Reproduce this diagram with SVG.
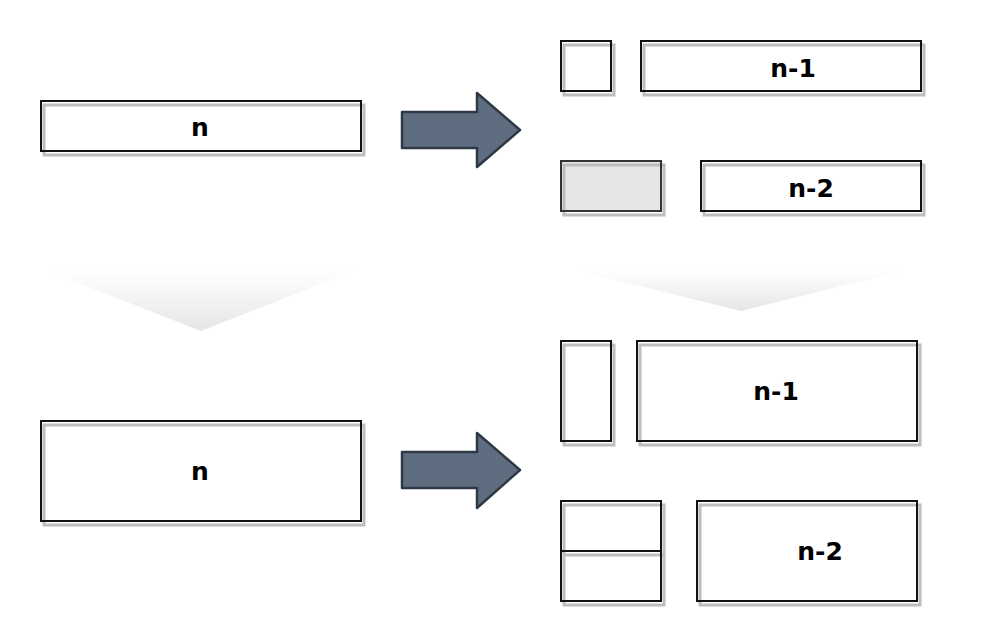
<svg xmlns="http://www.w3.org/2000/svg" width="1004" height="644" viewBox="0 0 1004 644">
<style>
.sh{fill:none;stroke:#bdbdbd;stroke-width:3}
.bx{fill:#ffffff;fill-opacity:0;stroke:#111;stroke-width:2}
.bg{fill:#fff}
.lbl{font-family:"DejaVu Sans",Verdana,sans-serif;font-weight:bold;font-size:25px;fill:#000;text-anchor:middle;dominant-baseline:central}
.arr{fill:#5e6e80;stroke:#2e3945;stroke-width:2.5;stroke-linejoin:round}
.chev{fill:url(#cg)}
</style>
<defs>
<linearGradient id="cg" x1="0" y1="0" x2="0" y2="1">
<stop offset="0" stop-color="#ffffff"/>
<stop offset="1" stop-color="#e6e6e6"/>
</linearGradient>
</defs>
<rect width="1004" height="644" fill="#fff"/>
<g id="chevrons">
<polygon class="chev" points="45,270 356,270 201,331"/>
<polygon class="chev" points="575,270 906,270 741,311"/>
</g>
<g id="connectors">
<polygon class="arr" points="402,112 477,112 477,93 520,130 477,167 477,148 402,148"/>
<polygon class="arr" points="402,452 477,452 477,433 520,470 477,508 477,488 402,488"/>
</g>
<g id="n-top">
<rect class="bg" x="41" y="101" width="320" height="50"/>
<rect class="sh" x="44" y="105" width="320" height="50"/>
<rect class="bx" x="41" y="101" width="320" height="50"/>
<text class="lbl" x="200" y="127">n</text>
</g>
<g id="sq-top">
<rect class="bg" x="561" y="41" width="50" height="50"/>
<rect class="sh" x="564" y="45" width="50" height="50"/>
<rect class="bx" x="561" y="41" width="50" height="50"/>
</g>
<g id="n1-top">
<rect class="bg" x="641" y="41" width="280" height="50"/>
<rect class="sh" x="644" y="45" width="280" height="50"/>
<rect class="bx" x="641" y="41" width="280" height="50"/>
<text class="lbl" x="793" y="68">n-1</text>
</g>
<g id="gray-top">
<rect x="561" y="161" width="100" height="50" fill="#e6e6e6"/>
<rect class="sh" x="564" y="165" width="100" height="50"/>
<rect x="561" y="161" width="100" height="50" fill="none" stroke="#333" stroke-width="2"/>
</g>
<g id="n2-top">
<rect class="bg" x="701" y="161" width="220" height="50"/>
<rect class="sh" x="704" y="165" width="220" height="50"/>
<rect class="bx" x="701" y="161" width="220" height="50"/>
<text class="lbl" x="811" y="188">n-2</text>
</g>
<g id="n-bottom">
<rect class="bg" x="41" y="421" width="320" height="100"/>
<rect class="sh" x="44" y="425" width="320" height="100"/>
<rect class="bx" x="41" y="421" width="320" height="100"/>
<text class="lbl" x="200" y="471">n</text>
</g>
<g id="tall-bottom">
<rect class="bg" x="561" y="341" width="50" height="100"/>
<rect class="sh" x="564" y="345" width="50" height="100"/>
<rect class="bx" x="561" y="341" width="50" height="100"/>
</g>
<g id="n1-bottom">
<rect class="bg" x="637" y="341" width="280" height="100"/>
<rect class="sh" x="640" y="345" width="280" height="100"/>
<rect class="bx" x="637" y="341" width="280" height="100"/>
<text class="lbl" x="776" y="391">n-1</text>
</g>
<g id="stack-bottom">
<rect class="bg" x="561" y="501" width="100" height="100"/>
<rect class="sh" x="564" y="505" width="100" height="100"/>
<line x1="564" y1="555" x2="664" y2="555" stroke="#bdbdbd" stroke-width="3"/>
<rect class="bx" x="561" y="501" width="100" height="100"/>
<line x1="561" y1="551" x2="661" y2="551" stroke="#111" stroke-width="2"/>
</g>
<g id="n2-bottom">
<rect class="bg" x="697" y="501" width="220" height="100"/>
<rect class="sh" x="700" y="505" width="220" height="100"/>
<rect class="bx" x="697" y="501" width="220" height="100"/>
<text class="lbl" x="820" y="551">n-2</text>
</g>
</svg>
